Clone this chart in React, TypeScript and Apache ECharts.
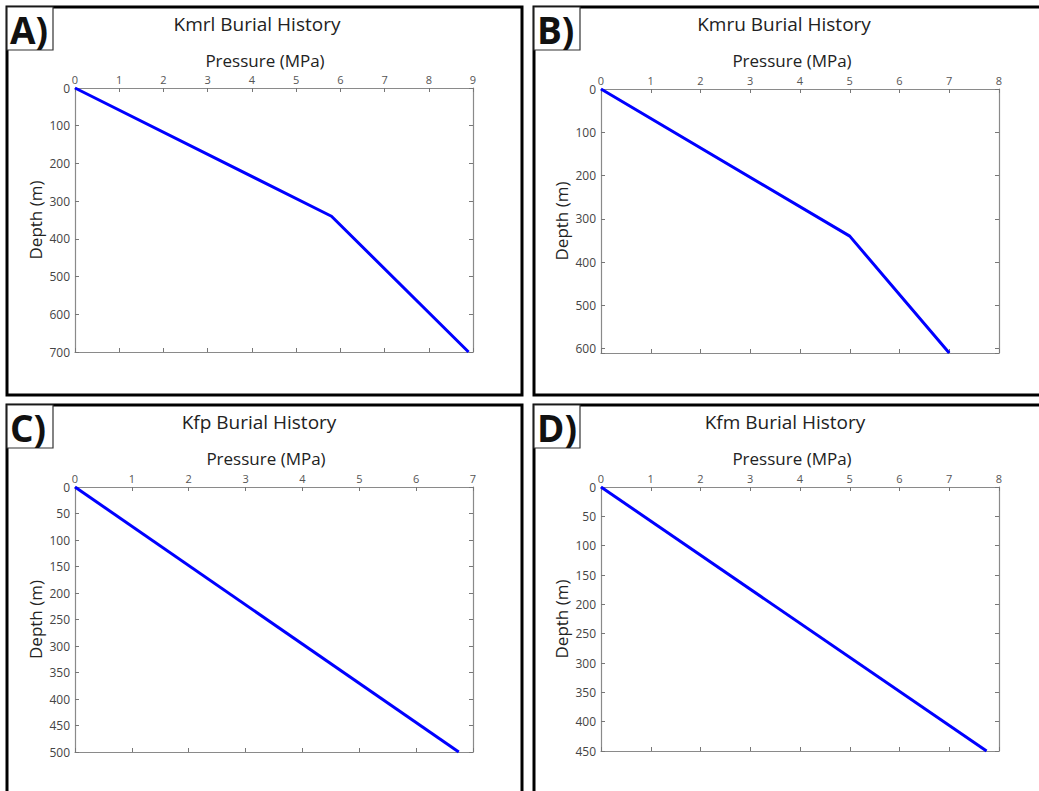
import React, { useEffect, useRef } from "react";
import * as echarts from "echarts";

const panelLabels = ["A)", "B)", "C)", "D)"];
const titles = ["Kmrl Burial History", "Kmru Burial History", "Kfp Burial History", "Kfm Burial History"];
const xAxisName = "Pressure (MPa)";
const yAxisName = "Depth (m)";

const pressureA = [0, 5.8, 8.9];
const depthA = [0, 340, 700];
const pressureB = [0, 5.0, 7.0];
const depthB = [0, 340, 610];
const pressureC = [0, 6.75];
const depthC = [0, 500];
const pressureD = [0, 7.75];
const depthD = [0, 450];

const xMaxes = [9, 8, 7, 8];
const yMaxes = [700, 610, 500, 450];
const yIntervals = [100, 100, 50, 50];

const FONT = "'Open Sans', 'Noto Sans', sans-serif";

export default function App() {
  const ref = useRef<HTMLDivElement>(null);

  useEffect(() => {
    if (!ref.current) return;
    const chart = echarts.init(ref.current, undefined, { renderer: "svg" });

    const pressures = [pressureA, pressureB, pressureC, pressureD];
    const depths = [depthA, depthB, depthC, depthD];

    // layout (pixels)
    const grids = [
      { left: 75, top: 88, width: 398, height: 264 },
      { left: 601, top: 89, width: 398, height: 264 },
      { left: 75, top: 487, width: 398, height: 265 },
      { left: 601, top: 487, width: 398, height: 264 },
    ];
    const panels = [
      { x: 7, y: 7, w: 515, h: 388 },
      { x: 534, y: 7, w: 515, h: 388 },
      { x: 7, y: 405, w: 515, h: 400 },
      { x: 534, y: 405, w: 515, h: 400 },
    ];
    const titleX = [257, 784, 259, 785];
    const pressX = [265, 792, 266, 792];

    const xAxes: any[] = [];
    const yAxes: any[] = [];
    const series: any[] = [];
    const graphics: any[] = [];

    grids.forEach((g, i) => {
      const common = {
        gridIndex: i,
        type: "value",
        min: 0,
        splitLine: { show: false },
        axisLine: { show: true, onZero: false, lineStyle: { color: "#8a8a8a", width: 1.2 } },
        axisTick: { show: true, inside: true, length: 4, lineStyle: { color: "#777", width: 1 } },
      };
      xAxes.push({
        ...common,
        position: "top",
        max: xMaxes[i],
        interval: 1,
        axisLabel: { show: true, margin: 3, color: "#555", fontSize: 11, fontFamily: FONT },
      });
      xAxes.push({
        ...common,
        position: "bottom",
        max: xMaxes[i],
        interval: 1,
        axisLabel: { show: false },
      });
      const step = yIntervals[i];
      yAxes.push({
        ...common,
        position: "left",
        inverse: true,
        max: yMaxes[i],
        interval: step,
        name: yAxisName,
        nameLocation: "middle",
        nameGap: 31,
        nameTextStyle: { color: "#222", fontSize: 17, fontFamily: FONT },
        axisLabel: {
          show: true,
          margin: 5,
          color: "#444",
          fontSize: 12,
          fontFamily: FONT,
          formatter: (v: number) => (v % step === 0 ? String(v) : ""),
        },
      });
      yAxes.push({
        ...common,
        position: "right",
        inverse: true,
        max: yMaxes[i],
        interval: step,
        axisLabel: { show: false },
      });
      series.push({
        type: "line",
        xAxisIndex: 2 * i,
        yAxisIndex: 2 * i,
        data: pressures[i].map((p, k) => [p, depths[i][k]]),
        showSymbol: false,
        symbol: "none",
        clip: false,
        lineStyle: { color: "#0000ff", width: 3 },
      });

      const p = panels[i];
      graphics.push({
        type: "rect",
        shape: { x: p.x, y: p.y, width: p.w, height: p.h },
        style: { fill: "none", stroke: "#000", lineWidth: 3 },
        z: 10,
      });
      graphics.push({
        type: "rect",
        shape: { x: p.x, y: p.y, width: 46, height: 43 },
        style: { fill: "#fff", stroke: "#333", lineWidth: 1.2 },
        z: 11,
      });
      graphics.push({
        type: "text",
        x: p.x + 3,
        y: p.y + 22,
        style: {
          text: panelLabels[i],
          fill: "#111",
          font: `bold 37px ${FONT}`,
          textAlign: "left",
          textVerticalAlign: "middle",
        },
        z: 12,
      });
      graphics.push({
        type: "text",
        x: titleX[i],
        y: p.y + 17,
        style: {
          text: titles[i],
          fill: "#222",
          font: `19px ${FONT}`,
          textAlign: "center",
          textVerticalAlign: "middle",
        },
        z: 12,
      });
      graphics.push({
        type: "text",
        x: pressX[i],
        y: p.y + 53,
        style: {
          text: xAxisName,
          fill: "#222",
          font: `17px ${FONT}`,
          textAlign: "center",
          textVerticalAlign: "middle",
        },
        z: 12,
      });
    });

    chart.setOption({
      animation: false,
      backgroundColor: "#fff",
      grid: grids.map((g) => ({ ...g, containLabel: false })),
      xAxis: xAxes,
      yAxis: yAxes,
      series,
      graphic: graphics,
    });

    return () => chart.dispose();
  }, []);

  return (
    <div
      ref={ref}
      style={{ position: "absolute", left: 0, top: 0, width: 1039, height: 791, background: "#fff" }}
    />
  );
}
